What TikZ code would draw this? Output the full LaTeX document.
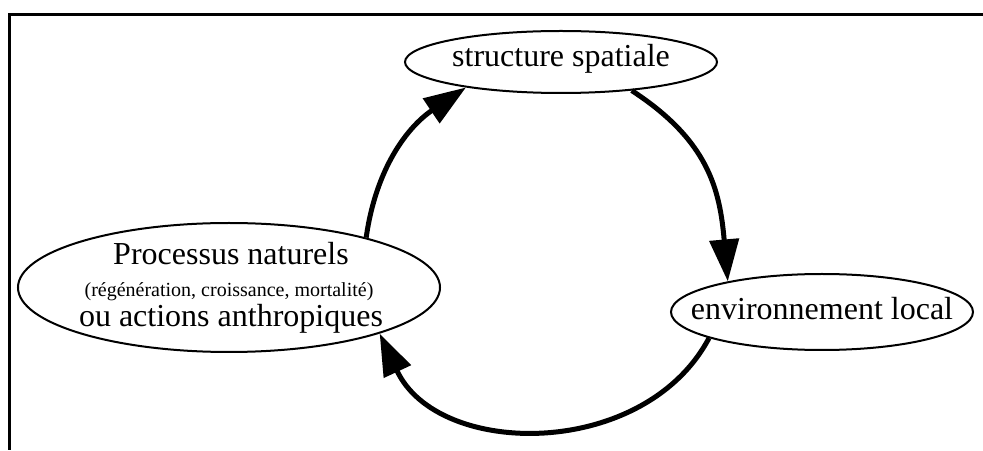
\documentclass[tikz,border=0pt]{standalone}
\usepackage{fontspec}
\setmainfont{Liberation Serif}
\usetikzlibrary{shapes.geometric,arrows.meta}
\begin{document}
\begin{tikzpicture}[x=1pt,y=1pt,
  bubble/.style={draw, ellipse, line width=2pt, inner sep=0pt},
  big/.style={font=\fontsize{32}{36}\selectfont, inner sep=0pt},
  small/.style={font=\fontsize{20}{22}\selectfont, inner sep=0pt},
  flow/.style={line width=5pt, -{Triangle[length=42pt,width=29pt]}},
  frameline/.style={line width=3pt, line join=miter}]
\useasboundingbox (0,0) rectangle (983,450);

% open frame: top and left edges
\coordinate (fr) at (983,435.5);
\coordinate (fc) at (9.5,435.5);
\coordinate (fb) at (9.5,0);
\draw[frameline] (fr) -- (fc) -- (fb);

% the three states of the cycle
\node[bubble, minimum width=312pt, minimum height=62pt] (S) at (561,388) {};
\node[bubble, minimum width=422pt, minimum height=129pt] (P) at (229,162.5) {};
\node[bubble, minimum width=302pt, minimum height=76pt] (E) at (822,138) {};

\node[big, anchor=base] (St) at (561,383) {structure spatiale};
\node[big, anchor=base] (Et) at (822,130) {environnement local};
\node[big, anchor=base] (P1) at (231,185) {Processus naturels};
\node[small, anchor=base] (P2) at (229,153) {(régénération, croissance, mortalité)};
\node[big, anchor=base] (P3) at (231,123) {ou actions anthropiques};

% cycle arrows
\draw[flow] (P.20) to[out=82,in=214] (S.195);
\draw[flow] (S.-22) to[out=-33,in=95,looseness=1.1] (E.162);
\draw[flow] (E.193) to[out=242,in=-65,looseness=1.07] (P.-17);
\end{tikzpicture}
\end{document}
